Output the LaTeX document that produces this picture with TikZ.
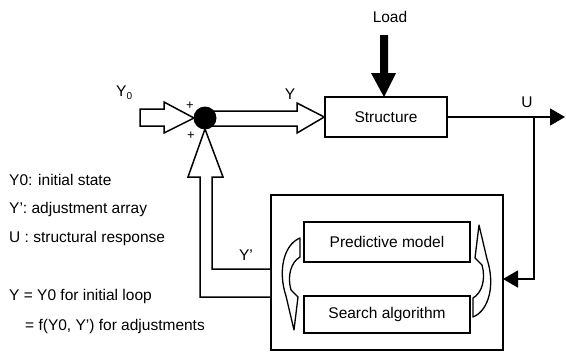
\documentclass[tikz,border=0pt]{standalone}
\usepackage{fontspec}
\setmainfont{Liberation Sans}
\usetikzlibrary{arrows.meta,calc}
\begin{document}
\begin{tikzpicture}[x=1pt,y=-1pt,
  lw/.style={line width=1.5pt},
  blk/.style={draw,lw,minimum width=#1,inner sep=0pt},
  hollow/.style={draw,fill=white,line width=1.5pt,line join=miter},
  lbl/.style={inner sep=0pt,font=\fontsize{15.5}{18}\selectfont},
  plus/.style={inner sep=0pt,font=\fontsize{13}{15}\selectfont},
  tip/.style={-{Triangle[length=15pt,width=17pt]}}]
\useasboundingbox (0,0) rectangle (566,360);
\fill[white] (0,0) rectangle (566,360);
% blocks
\node[blk=122pt,minimum height=40pt,lbl] (structure) at (386,117) {Structure};
\node[draw,line width=1.8pt,minimum width=232pt,minimum height=155pt,inner sep=0pt] (bigbox) at (387,272.5) {};
\node[blk=166pt,minimum height=40pt,lbl] (predictive) at (387,242) {Predictive model};
\node[blk=166pt,minimum height=37pt,lbl] (search) at (387,314.5) {Search algorithm};
% Y0 input hollow arrow
\draw[hollow] (140,109) -- (164,109) -- (164,102) -- (194,118) -- (164,133) -- (164,126) -- (140,126) -- cycle;
% forward hollow arrow to structure
\draw[hollow] (205,111) -- (297,111) -- (297,103) -- (structure.west) -- (297,133) -- (297,126) -- (205,126);
% feedback hollow arrow
\draw[hollow] (bigbox.west |- 0,269) -- (212,269) -- (212,177) -- (223,177) -- (205,129) -- (188,177) -- (200,177) -- (200,297) -- (bigbox.west |- 0,297);
% summing junction
\node[circle,fill=black,minimum size=23pt,inner sep=0pt] (junction) at (205,118) {};
% load arrow
\fill (380,35) -- (388,35) -- (388,73) -- (396,73) -- (384,97) -- (371,73) -- (380,73) -- cycle;
\node[lbl] (load) at (390,17) {Load};
% output
\coordinate (outend) at (565,117);
\coordinate (split) at (534,117);
\coordinate (fbin) at (503,279);
\draw[lw,tip] (structure.east) -- (outend);
\draw[lw,tip] (split) |- (fbin);
% curved arrows
\def\curvedarrow{(300,238) -- (300,257) .. controls (291,262) and (287,276) .. (291,290) -- (298,297) -- (294,330) -- (286,296) .. controls (278,272) and (283,245) .. (300,238) -- cycle}
\draw[hollow,line width=1.3pt,line join=round] \curvedarrow;
\begin{scope}[rotate around={180:(386.5,277.5)}]
\draw[hollow,line width=1.3pt,line join=round] \curvedarrow;
\end{scope}
% labels
\node[lbl] (ylab) at (290,94) {Y};
\node[lbl] (ulab) at (527,102) {U};
\node[lbl] (yplab) at (246,255) {Y'};
\node[lbl,anchor=base west] (y0lab) at (116,96) {Y\raisebox{-3pt}{\fontsize{10}{12}\selectfont 0}};
\node[plus] (p1) at (190,106) {+};
\node[plus] (p2) at (191,136) {+};
\node[lbl,anchor=base west] (t1) at (9,185) {Y0: initial state};
\node[lbl,anchor=base west] (t2) at (9,213) {Y': adjustment array};
\node[lbl,anchor=base west] (t3) at (9,242) {U : structural response};
\node[lbl,anchor=base west] (t4) at (9,300) {Y = Y0 for initial loop};
\node[lbl,anchor=base west] (t5) at (25,330) {= f(Y0, Y') for adjustments};
\end{tikzpicture}
\end{document}
